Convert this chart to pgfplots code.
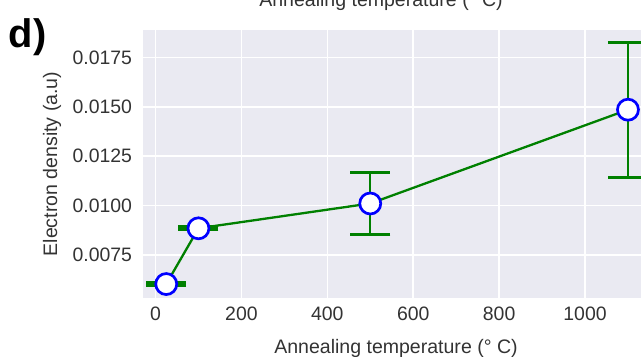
\documentclass[border=0pt]{standalone}
\usepackage{pgfplots}
\pgfplotsset{compat=1.18}
\usepackage{fontspec}
\setmainfont{Liberation Sans}
\definecolor{bggray}{HTML}{EAEAF2}
\definecolor{txtgray}{HTML}{333333}
\definecolor{mplgreen}{HTML}{008000}
\definecolor{mplblue}{HTML}{0000FF}
\begin{document}
\begin{tikzpicture}[x=1bp,y=1bp]
\begin{axis}[
  at={(143bp,58bp)}, anchor=south west,
  width=506bp, height=268bp, scale only axis,
  xmin=-29.1, xmax=1149,
  ymin=0.005302, ymax=0.018906,
  xtick={0,200,400,600,800,1000},
  ytick={0.0075,0.01,0.0125,0.015,0.0175},
  scaled y ticks=false,
  yticklabel style={/pgf/number format/.cd, fixed, fixed zerofill, precision=4},
  xticklabel style={/pgf/number format/.cd, 1000 sep={}},
  /pgf/number format/assume math mode=true,
  tick label style={font=\fontsize{19.5}{22}\selectfont, text=txtgray},
  yticklabel shift=7.5bp,
  xticklabel shift=5bp,
  major tick length=0pt,
  axis line style={draw=none},
  axis background/.style={fill=bggray},
  grid=major,
  major grid style={white, line width=1.6bp},
  xlabel={Annealing temperature (° C)},
  ylabel={Electron density (a.u)},
  every axis x label/.style={at={(axis description cs:0.5,0)}, anchor=base, yshift=-55bp, font=\fontsize{19.6}{22}\selectfont, text=txtgray},
  every axis y label/.style={at={(axis description cs:0,0.5)}, xshift=-86bp, rotate=90, anchor=base, font=\fontsize{19.6}{22}\selectfont, text=txtgray},
]
\addplot[
  mplgreen, line width=2.3bp,
  mark=*, mark size=10.5bp,
  mark options={fill=white, draw=mplblue, line width=2.7bp},
  error bars/.cd, y dir=both, y explicit,
  error bar style={mplgreen, line width=2.1bp},
  error mark options={rotate=90, mark size=20bp, line width=3bp, mplgreen},
] table[x=x, y=y, y error=e] {
x y e
25 0.00601 0.00009
100 0.00884 0.00008
500 0.01010 0.00157
1100 0.01486 0.00342
};
\end{axis}
\node[anchor=base west, inner sep=0pt, font=\fontsize{40}{44}\selectfont\bfseries] at (8.5,309) {d)};
\node[anchor=base, inner sep=0pt, font=\fontsize{19.6}{22}\selectfont, text=txtgray] at (381,349.5) {Annealing temperature (° C)};
\pgfresetboundingbox
\path[use as bounding box] (0,0) rectangle (641,356);
\end{tikzpicture}
\end{document}
